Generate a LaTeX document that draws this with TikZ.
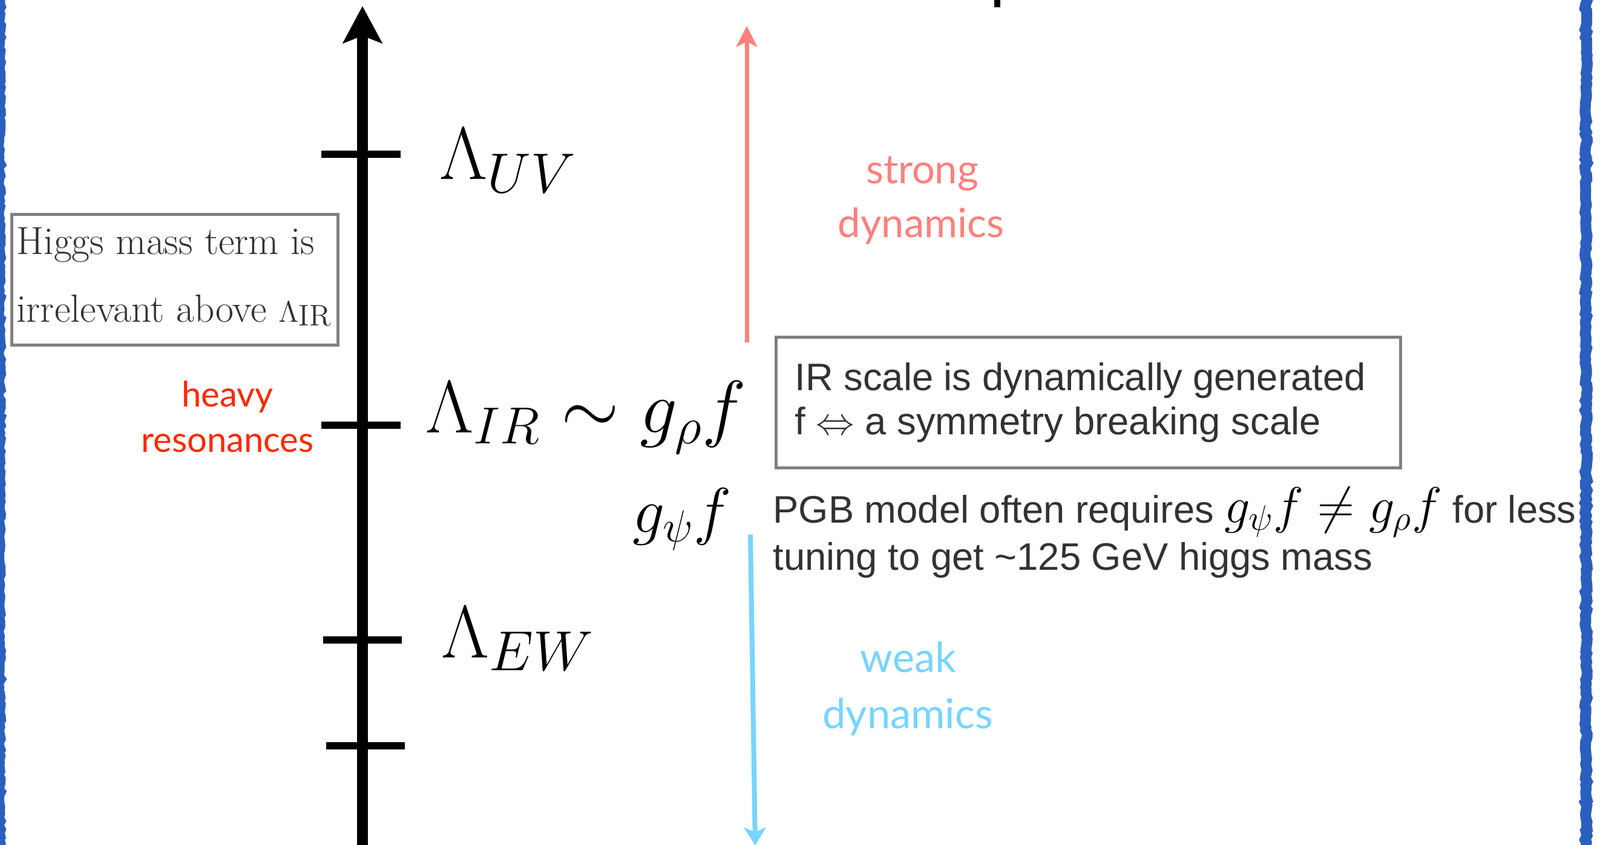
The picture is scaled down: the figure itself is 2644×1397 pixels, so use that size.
\RequirePackage{fix-cm}
\documentclass[tikz,border=0pt]{standalone}
\usepackage[no-math]{fontspec}
\newfontfamily\helv{Liberation Sans}
\newfontfamily\gill{Lato}
\usetikzlibrary{arrows.meta,decorations.pathmorphing}
\definecolor{framecol}{RGB}{42,95,192}
\definecolor{boxgray}{RGB}{128,128,128}
\definecolor{txtgray}{RGB}{50,50,50}
\definecolor{strongcol}{RGB}{255,128,124}
\definecolor{weakcol}{RGB}{120,212,255}
\definecolor{heavycol}{RGB}{255,40,0}
\newcommand{\bigsubscr}[1]{_{\mbox{\fontsize{26.5}{30}\selectfont$#1$}}}
\begin{document}
\begin{tikzpicture}[x=0.01cm,y=-0.01cm,
  lbl/.style={inner sep=0pt, anchor=base west},
  ctr/.style={inner sep=0pt, anchor=base},
  tickline/.style={line width=0.12cm, black},
  axisline/.style={line width=0.17cm, black, -{Stealth[length=0.61cm,width=0.64cm,inset=0.12cm]}},
  strongarrow/.style={line width=0.07cm, strongcol, -{Stealth[length=0.34cm,width=0.34cm,inset=0.08cm]}},
  weakarrow/.style={line width=0.08cm, weakcol, -{Stealth[length=0.3cm,width=0.36cm,inset=0.08cm]}},
  graybox/.style={draw=boxgray, line width=0.05cm, inner sep=0pt, rectangle},
  sketch/.style={framecol, decorate, decoration={random steps, segment length=0.06cm, amplitude=0.02cm}}
]
\useasboundingbox (0,0) rectangle (2644,1397);

% sketchy blue frame sides
\draw[sketch, line width=0.16cm] (0,-5) -- (0,1402);
\draw[sketch, line width=0.18cm] (2621,-5) -- (2621,1402);

% cut-off title stroke
\fill[black] (1643,0) rectangle (1653,12);

% axis
\coordinate (axbot) at (599,1400);
\coordinate (axtop) at (599,10);
\draw[axisline] (axbot) -- (axtop);

% ticks
\coordinate (uvL) at (531,255); \coordinate (uvR) at (662,255);
\coordinate (irL) at (531,703); \coordinate (irR) at (662,703);
\coordinate (ewL) at (534,1058); \coordinate (ewR) at (664,1058);
\coordinate (loL) at (539,1233); \coordinate (loR) at (669,1233);
\draw[tickline] (uvL) -- (uvR);
\draw[tickline] (irL) -- (irR);
\draw[tickline] (ewL) -- (ewR);
\draw[tickline] (loL) -- (loR);

% scale labels
\node[lbl] (luv) at (726,297) {\fontsize{35}{42}\selectfont$\Lambda\bigsubscr{UV}$};
\node[lbl] (lir) at (703,715) {\fontsize{35}{42}\selectfont$\Lambda_{IR}\sim g_{\rho}f$};
\node[lbl] (lew) at (729,1087) {\fontsize{35}{42}\selectfont$\Lambda\bigsubscr{EW}$};
\node[lbl] (gpsi) at (1045,880) {\fontsize{30}{36}\selectfont$g_{\psi}f$};

% heavy resonances
\node[ctr, text=heavycol] (heavy) at (376,672) {\gill\fontsize{16.5}{20}\selectfont heavy};
\node[ctr, text=heavycol] (reson) at (376,747) {\gill\fontsize{16.5}{20}\selectfont resonances};

% strong / weak dynamics arrows
\coordinate (sbot) at (1234,566);
\coordinate (stop) at (1234,43);
\draw[strongarrow] (sbot) -- (stop);
\coordinate (wtop) at (1240,884);
\coordinate (wbot) at (1248,1398);
\draw[weakarrow] (wtop) -- (wbot);

\node[ctr, text=strongcol] (strong) at (1524,304) {\gill\fontsize{19}{23}\selectfont strong};
\node[ctr, text=strongcol] (sdyn) at (1522,393) {\gill\fontsize{19}{23}\selectfont dynamics};
\node[ctr, text=weakcol] (weak) at (1501,1111) {\gill\fontsize{19.5}{23}\selectfont weak};
\node[ctr, text=weakcol] (wdyn) at (1500,1204) {\gill\fontsize{19.5}{23}\selectfont dynamics};

% Higgs box
\node[graybox, minimum width=5.39cm, minimum height=2.16cm, anchor=north west] (higgsbox) at (17,352) {};
\node[lbl, text=txtgray] (h1) at (27,420) {\fontsize{18.5}{22}\selectfont Higgs mass term is};
\node[lbl, text=txtgray] (h2) at (27,532) {\fontsize{18.5}{22}\selectfont irrelevant above {\fontsize{14}{16}\selectfont$\Lambda$\raisebox{-0.06cm}{IR}}};

% IR box
\node[graybox, minimum width=10.31cm, minimum height=2.16cm, anchor=north west] (irbox) at (1280,555) {};
\node[lbl, text=txtgray] (ir1) at (1313,645) {\helv\fontsize{18}{21}\selectfont IR scale is dynamically generated};
\node[lbl, text=txtgray] (ir2) at (1313,718) {\helv\fontsize{18}{21}\selectfont f $\Leftrightarrow$ a symmetry breaking scale};

% PGB text
\node[lbl, text=txtgray] (pgb1) at (1277,864) {\helv\fontsize{18}{21}\selectfont PGB model often requires {\fontsize{24}{28}\selectfont\color{black}$g_{\psi}f\neq g_{\rho}f$} for less};
\node[lbl, text=txtgray] (pgb2) at (1277,942) {\helv\fontsize{18}{21}\selectfont tuning to get \char"7E\relax 125 GeV higgs mass};
\end{tikzpicture}
\end{document}
